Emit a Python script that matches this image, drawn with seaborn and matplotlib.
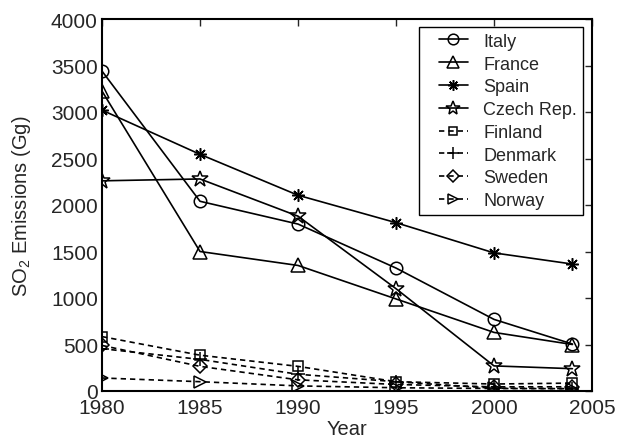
import matplotlib
matplotlib.use("Agg")
import matplotlib.pyplot as plt
from matplotlib.legend_handler import HandlerLine2D
import seaborn as sns
import pandas as pd

years = [1980, 1985, 1990, 1995, 2000, 2004]
countries = ["Italy", "France", "Spain", "Czech Rep.", "Finland", "Denmark", "Sweden", "Norway"]
italy = [3440, 2040, 1795, 1322, 770, 505]
france = [3225, 1500, 1350, 990, 630, 500]
spain = [3020, 2545, 2105, 1810, 1485, 1365]
czech = [2260, 2280, 1880, 1100, 270, 240]
finland = [585, 385, 265, 100, 75, 85]
denmark = [455, 340, 180, 100, 30, 25]
sweden = [490, 265, 120, 70, 45, 45]
norway = [140, 100, 55, 35, 27, 25]
series = [italy, france, spain, czech, finland, denmark, sweden, norway]

markers = ["o", "^", (8, 2, 0), "*", "s", "+", "D", ">"]
msizes = [9, 10, 9, 12, 7, 10, 7, 9]
lstyles = ["-", "-", "-", "-", "--", "--", "--", "--"]

sns.set_style("white")
plt.rcParams["font.family"] = ["Liberation Sans", "DejaVu Sans"]
plt.rcParams["mathtext.fontset"] = "custom"
plt.rcParams["mathtext.rm"] = "Liberation Sans"
plt.rcParams["mathtext.it"] = "Liberation Sans"

fig = plt.figure(figsize=(6.17, 4.39), dpi=100)
ax = fig.add_axes([102 / 617, 1 - 392 / 439, 490 / 617, 372 / 439])

for name, vals, m, ms, ls in zip(countries, series, markers, msizes, lstyles):
    df = pd.DataFrame({"Year": years, "SO2": vals})
    sns.lineplot(data=df, x="Year", y="SO2", ax=ax, color="black", linewidth=1.2,
                 marker=m, markersize=ms, fillstyle="none",
                 markeredgecolor="black", markeredgewidth=1.1, label=name)
    ax.lines[-1].set_linestyle(ls)
    if ls == "--":
        ax.lines[-1].set_dashes((3.2, 2.4))

ax.set_xlim(1980, 2005)
ax.set_ylim(0, 4000)
ax.set_xticks(range(1980, 2006, 5))
ax.set_yticks(range(0, 4001, 500))
ax.tick_params(direction="in", top=True, right=True, labelsize=15, length=5, width=1)
ax.tick_params(axis="x", pad=5)
ax.tick_params(axis="y", pad=3)
for s in ax.spines.values():
    s.set_visible(True)
    s.set_linewidth(1.5)
    s.set_color("black")
ax.set_xlabel("Year", fontsize=14.5, labelpad=1.5)
ax.set_ylabel("SO$_2$ Emissions (Gg)", fontsize=14.5, labelpad=13)


class OffsetHandler(HandlerLine2D):
    def __init__(self, offset, **kw):
        super().__init__(**kw)
        self.offset = offset

    def create_artists(self, legend, orig_handle, xdescent, ydescent, width, height, fontsize, trans):
        return super().create_artists(legend, orig_handle, xdescent - self.offset, ydescent,
                                      width - self.offset, height, fontsize, trans)


handles, labels = ax.get_legend_handles_labels()
fs = 13
off_px = 14
leg = ax.legend(handles, labels, loc="upper right",
                bbox_to_anchor=((583 - 102) / 490, (392 - 28) / 372),
                fontsize=fs, frameon=True, fancybox=False, edgecolor="black",
                framealpha=1, handlelength=2.4, labelspacing=0.32, borderpad=0.32,
                handletextpad=0.85, borderaxespad=0,
                handler_map={h: OffsetHandler(off_px * 72 / 100) for h in handles})
leg.get_frame().set_linewidth(1.0)
for lh in leg.get_lines():
    lh.set_markersize(lh.get_markersize() * 0.85)

fig.savefig("out.png", dpi=100)
